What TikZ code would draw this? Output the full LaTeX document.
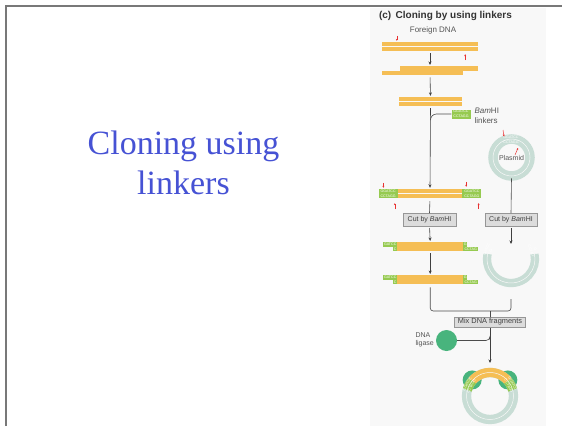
\documentclass[tikz,border=0pt]{standalone}
\usepackage{fontspec}
\usepackage{tikz}
\usetikzlibrary{arrows.meta, positioning}
\newfontfamily\figfont{Liberation Sans}
\newfontfamily\slidefont{Liberation Serif}
\definecolor{dnaorange}{RGB}{245,190,85}
\definecolor{linkgreen}{RGB}{150,202,80}
\definecolor{ringgray}{RGB}{200,221,213}
\definecolor{ligasegreen}{RGB}{72,180,125}
\definecolor{cutred}{RGB}{232,50,50}
\definecolor{panelgray}{RGB}{248,248,248}
\definecolor{boxgray}{RGB}{220,220,220}
\definecolor{boxline}{RGB}{150,150,150}
\definecolor{inkgray}{RGB}{85,85,85}
\definecolor{titleblue}{RGB}{70,82,212}
\definecolor{framegray}{RGB}{120,120,120}

\newcommand{\tinyseq}{\figfont\fontsize{3.6}{4.6}\selectfont}

% sticky-ended fragment left by BamHI: #1 name, #2 top edge
\newcommand{\bamfragment}[2]{%
  \begin{scope}[shift={(0,#2)}]
    \node[single, minimum width=66pt, anchor=north west] (#1) at (397,0) {};
    \node[single, minimum width=66pt, anchor=north west] (#1b) at (397,-4.7) {};
    \node[stub, minimum width=14pt, anchor=north west] at (383,0) {GATCC};
    \node[stub, minimum width=4pt, anchor=north west] at (463,0) {G};
    \node[stub, minimum width=4pt, anchor=north west] at (393,-4.7) {C};
    \node[stub, minimum width=15pt, anchor=north west] at (463,-4.7) {CCTAG};
  \end{scope}}

\begin{document}
\begin{tikzpicture}[
  x=1pt, y=1pt,
  twostrand/.style={path picture={\draw[panelgray, line width=0.4pt]
      (path picture bounding box.west) -- (path picture bounding box.east);}},
  duplex/.style={rectangle, fill=dnaorange, inner sep=0pt, minimum height=9pt, twostrand},
  single/.style={rectangle, fill=dnaorange, inner sep=0pt, minimum height=4.3pt},
  stub/.style={rectangle, fill=linkgreen, inner sep=0pt, minimum height=4.3pt, text=white, font=\tinyseq},
  linker/.style={rectangle, fill=linkgreen, inner sep=0pt, minimum width=19pt, minimum height=9pt,
      text=white, font=\tinyseq, align=center},
  seqtext/.style={inner sep=0pt, text=white, font=\tinyseq, align=center},
  cutbox/.style={rectangle, draw=boxline, fill=boxgray, line width=0.5pt, minimum height=12.5pt,
      inner sep=1pt, font=\figfont\fontsize{7}{8}\selectfont, text=black!75},
  flow/.style={-{Stealth[length=3.5pt, width=3pt]}, line width=0.6pt, draw=black!75,
      shorten <=2pt, shorten >=1pt},
  joint/.style={line width=0.6pt, draw=black!70},
  cutmark/.style={-{Stealth[length=2pt, width=2pt]}, line width=0.5pt, cutred},
  ring/.style={draw=ringgray, double=panelgray, double distance=0.5pt},
  note/.style={font=\figfont\fontsize{8}{10}\selectfont, text=inkgray}
]
\useasboundingbox (0,0) rectangle (562,-426);
\fill[panelgray] (370,-8) rectangle (546,-426);
\draw[framegray, line width=1.6pt] (6,-426) -- (6,-6) -- (562,-6);

\node[font=\slidefont\fontsize{34}{40}\selectfont, text=titleblue, align=center, anchor=base]
  (heading) at (183.5,-194) {Cloning using\\linkers};

\node[anchor=base west, font=\figfont\bfseries\fontsize{10}{12}\selectfont, text=black!80]
  (panel) at (375.5,-18.5) {(c)\hspace{0.45em}Cloning by using linkers};
\node[note] (fdna) at (433,-30.5) {Foreign DNA};

% foreign DNA, trimmed to blunt ends
\node[duplex, minimum width=96pt] (f1) at (430,-46.5) {};
\node[single, minimum width=78pt, anchor=north west] (f2t) at (400,-66) {};
\node[single, minimum width=81pt, anchor=north west] (f2b) at (382,-70.7) {};
\node[duplex, minimum width=63pt] (f3) at (430.5,-101.5) {};

\node[linker] (lk) at (461,-114) {GGATCC\\CCTAGG};
\node[note, anchor=west, align=left] (lktxt) at (471,-115.5) {\textit{Bam}HI\\linkers};

% blunt-end ligation of the linkers
\node[duplex, minimum width=64pt] (f4) at (430,-193.5) {};
\node[linker, anchor=east] (lk1) at (f4.west) {GGATCC\\CCTAGG};
\node[linker, anchor=west] (lk2) at (f4.east) {GGATCC\\CCTAGG};

\node[cutbox, minimum width=53pt] (cb1) at (429.5,-219.5) {Cut by \textit{Bam}HI};
\node[cutbox, minimum width=52pt] (cb2) at (511,-219.5) {Cut by \textit{Bam}HI};

\bamfragment{f5}{-242}
\bamfragment{f6}{-275}

% vector
\node[ring, circle, line width=4.5pt, minimum size=37pt, inner sep=0pt,
  font=\figfont\fontsize{7}{8}\selectfont, text=inkgray] (pl) at (511.5,-157.5) {Plasmid};
\node[seqtext] (plsite) at (511,-140) {GGATCC\\CCTAGG};

\coordinate (op) at (511,-259);
\draw[ring, line width=3.9pt] ([shift={(168:24)}]op) arc[start angle=168, end angle=372, radius=24];
\node[seqtext, rotate=66] (opl) at ([shift={(158:24)}]op) {GATCC\\G};
\node[seqtext, rotate=-66] (opr) at ([shift={(22:24)}]op) {G\\CCTAG};
\coordinate (optop) at (511,-245);
\coordinate (opbot) at (511,-299);

\node[cutbox, minimum width=71pt, minimum height=10.5pt, font=\figfont\fontsize{7.4}{8}\selectfont]
  (mix) at (490,-322) {Mix DNA fragments};
\coordinate (junc) at (490,-311);

\node[circle, fill=ligasegreen, minimum size=21pt, inner sep=0pt] (lig) at (446.5,-340.5) {};
\node[anchor=west, align=left, font=\figfont\fontsize{7}{8.5}\selectfont, text=inkgray]
  (ligtxt) at (412,-340) {DNA\\ligase};

% recombinant plasmid
\coordinate (fp) at (490,-396);
\coordinate (fptop) at (490,-364);
\node[circle, fill=ligasegreen, minimum size=19pt, inner sep=0pt] (lg1) at ([shift={(138:24)}]fp) {};
\node[circle, fill=ligasegreen, minimum size=19pt, inner sep=0pt] (lg2) at ([shift={(42:24)}]fp) {};
\draw[ring, line width=4.4pt] (fp) circle (23.5);
\draw[ring, draw=dnaorange, line width=4.4pt] ([shift={(40:23.5)}]fp) arc[start angle=40, end angle=140, radius=23.5];
\draw[ring, draw=linkgreen, line width=4.4pt] ([shift={(140:23.5)}]fp) arc[start angle=140, end angle=165, radius=23.5];
\draw[ring, draw=linkgreen, line width=4.4pt] ([shift={(15:23.5)}]fp) arc[start angle=15, end angle=40, radius=23.5];
\node[seqtext, rotate=62] (fpl) at ([shift={(152:23.5)}]fp) {GGATCC\\CCTAGG};
\node[seqtext, rotate=-62] (fpr) at ([shift={(28:23.5)}]fp) {GGATCC\\CCTAGG};

% connectors
\draw[flow] (f1.south) -- (f1.south |- f2t.north);
\draw[flow] (f2b.south -| f1.south) -- (f3.north);
\draw[joint, rounded corners=6pt] (lk.west) -| ([yshift=-14pt]f3.south);
\draw[flow] (f3.south) -- (f4.north);
\draw[joint, shorten <=3pt] (f4.south) -- (cb1.north);
\draw[flow] (cb1.south) -- (f5.north);
\draw[flow] (f5b.south) -- (f6.north);
\draw[joint] (pl.south) -- (cb2.north);
\draw[flow] (cb2.south) -- (optop);
\draw[joint, rounded corners=3pt] ([yshift=-3pt]f6b.south) |- (junc) -| (opbot);
\draw[joint] (junc) -- (mix.north);
\draw[flow, shorten <=0pt] (mix.south) -- (fptop);
\draw[joint, rounded corners=4pt] (lig.east) -| ([yshift=-12pt]mix.south);

% BamHI cut sites
\draw[cutmark] ([shift={(15,6)}]f1.north west) -- ++(0,-5);
\draw[cutmark] ([shift={(-13,-9)}]f1.south east) -- ++(0,6);
\draw[cutmark] ([shift={(5,6)}]lk1.north west) -- ++(0,-5);
\draw[cutmark] ([shift={(4,7)}]lk2.north west) -- ++(0,-5);
\draw[cutmark] ([shift={(-3,-11)}]lk1.south east) -- ++(0,6);
\draw[cutmark] ([shift={(-3,-11)}]lk2.south east) -- ++(0,6);
\draw[cutmark] ([shift={(-8.5,27.5)}]pl.center) -- ++(1,-6.5);
\draw[cutmark] ([shift={(3.5,2.5)}]pl.center) -- ++(3,7);
\end{tikzpicture}
\end{document}
